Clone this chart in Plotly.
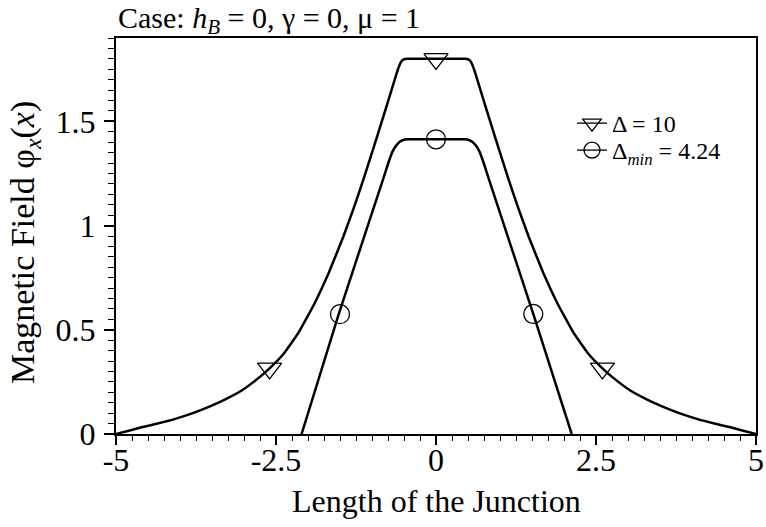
import plotly.graph_objects as go

# ---- data ----
x_d10 = [-5.0, -4.8, -4.6, -4.35, -4.1, -3.8, -3.55, -3.3, -3.03, -2.8, -2.6, -2.38,
         -2.15, -1.9, -1.68, -1.45, -1.29, -1.13, -1.0, -0.8, -0.62, -0.58, -0.54,
         -0.5, -0.45, 0.0, 0.45, 0.5, 0.54, 0.58, 0.62, 0.8, 1.0, 1.13, 1.29, 1.45,
         1.68, 1.9, 2.15, 2.38, 2.6, 2.8, 3.03, 3.3, 3.55, 3.8, 4.1, 4.35, 4.6, 4.8, 5.0]
y_d10 = [0.0, 0.016, 0.032, 0.05, 0.07, 0.1, 0.13, 0.165, 0.21, 0.262, 0.315, 0.385,
         0.485, 0.625, 0.77, 0.945, 1.08, 1.225, 1.35, 1.545, 1.725, 1.762, 1.788,
         1.798, 1.80, 1.80, 1.80, 1.798, 1.788, 1.762, 1.725, 1.545, 1.35, 1.225, 1.08, 0.945,
         0.77, 0.625, 0.485, 0.385, 0.315, 0.262, 0.21, 0.165, 0.13, 0.1, 0.07, 0.05, 0.032, 0.016, 0.0]

x_dmin = [-2.1, -1.52, -0.84, -0.74, -0.68, -0.62, -0.56, -0.5, -0.45, 0.0,
          0.45, 0.5, 0.56, 0.62, 0.68, 0.74, 0.84, 1.52, 2.12]
y_dmin = [0.0, 0.575, 1.21, 1.305, 1.355, 1.385, 1.403, 1.412, 1.414, 1.414,
          1.414, 1.412, 1.403, 1.385, 1.355, 1.305, 1.21, 0.576, 0.0]

mark_x_d10 = [-2.6, 0.0, 2.6]
mark_y_d10 = [0.315, 1.80, 0.315]
mark_x_dmin = [-1.5, 0.0, 1.52]
mark_y_dmin = [0.575, 1.414, 0.576]

x_ticks = [-5, -2.5, 0, 2.5, 5]
x_ticktext = ["-5", "-2.5", "0", "2.5", "5"]
y_ticks = [0, 0.5, 1, 1.5]
y_ticktext = ["0", "0.5", "1", "1.5"]

label_d10 = "Δ = 10"
label_dmin = "Δ<sub><i>min</i></sub> = 4.24"
title_text = "Case: <i>h</i><sub><i>B</i></sub> = 0, γ = 0, μ = 1"
x_title = "Length of the Junction"
y_title = "Magnetic Field φ<sub><i>x</i></sub>(<i>x</i>)"

FONT = "Liberation Serif, Times New Roman, serif"
W, H = 766, 527
ML, MR, MT, MB = 116, 10, 38, 93
PW, PH = W - ML - MR, H - MT - MB

fig = go.Figure()

fig.add_trace(go.Scatter(x=x_d10, y=y_d10, mode="lines",
                         line=dict(color="black", width=2.5, shape="spline", smoothing=0.3),
                         showlegend=False, hoverinfo="skip"))
fig.add_trace(go.Scatter(x=x_dmin, y=y_dmin, mode="lines",
                         line=dict(color="black", width=2.5, shape="spline", smoothing=0.3),
                         showlegend=False, hoverinfo="skip"))
fig.add_trace(go.Scatter(x=mark_x_d10, y=mark_y_d10, mode="markers",
                         marker=dict(symbol="triangle-down-open", size=21, color="black",
                                     line=dict(width=1.3, color="black")),
                         showlegend=False, cliponaxis=False))
fig.add_trace(go.Scatter(x=mark_x_dmin, y=mark_y_dmin, mode="markers",
                         marker=dict(symbol="circle-open", size=19, color="black",
                                     line=dict(width=1.3, color="black")),
                         showlegend=False, cliponaxis=False))
# legend entries
fig.add_trace(go.Scatter(x=[None], y=[None], mode="lines+markers", name=label_d10,
                         legend="legend",
                         line=dict(color="black", width=1.3),
                         marker=dict(symbol="triangle-down-open", size=16, color="black",
                                     line=dict(width=1.3, color="black"))))
fig.add_trace(go.Scatter(x=[None], y=[None], mode="lines+markers", name=label_dmin,
                         legend="legend2",
                         line=dict(color="black", width=1.3),
                         marker=dict(symbol="circle-open", size=16, color="black",
                                     line=dict(width=1.3, color="black"))))

leg_common = dict(xanchor="left", yanchor="top", bgcolor="rgba(0,0,0,0)", borderwidth=0,
                  font=dict(family=FONT, size=24, color="black"))

fig.update_layout(
    width=W, height=H,
    margin=dict(l=ML, r=MR, t=MT, b=MB),
    paper_bgcolor="white", plot_bgcolor="white",
    font=dict(family=FONT, color="black", size=30),
    title=dict(text=title_text, x=118 / W, xanchor="left", xref="container",
               y=1 - 28 / H, yanchor="bottom", yref="container",
               font=dict(family=FONT, size=30, color="black")),
    legend=dict(x=(572 - ML) / PW, y=(PH + MT - 101) / PH, **leg_common),
    legend2=dict(x=(572 - ML) / PW, y=(PH + MT - 128) / PH, **leg_common),
    showlegend=True,
    annotations=[
        dict(text=x_title, xref="paper", yref="paper", x=0.5, y=(PH + MT - 501) / PH,
             xanchor="center", yanchor="middle", showarrow=False,
             font=dict(family=FONT, size=32, color="black")),
        dict(text=y_title, xref="paper", yref="paper", x=(25 - ML) / PW,
             y=(PH + MT - 243) / PH, xanchor="center", yanchor="middle",
             textangle=-90, showarrow=False,
             font=dict(family=FONT, size=34, color="black")),
    ],
)

fig.update_xaxes(
    range=[-5, 5], tickvals=x_ticks, ticktext=x_ticktext,
    ticks="outside", ticklen=9, tickwidth=1.5, tickcolor="black",
    showline=True, linecolor="black", linewidth=2, mirror=True,
    showgrid=False, zeroline=False,
    tickfont=dict(family=FONT, size=32, color="black"),
    ticklabelstandoff=-12,
    minor=dict(ticks="outside", ticklen=5, tickwidth=1.2, tickcolor="black",
               dtick=0.25, tick0=0, showgrid=False),
    automargin=False,
)
fig.update_yaxes(
    range=[0, 1.9], tickvals=y_ticks, ticktext=y_ticktext,
    ticks="outside", ticklen=10, tickwidth=1.5, tickcolor="black",
    showline=True, linecolor="black", linewidth=2, mirror=True,
    showgrid=False, zeroline=False,
    tickfont=dict(family=FONT, size=32, color="black"),
    ticklabelstandoff=2,
    minor=dict(ticks="outside", ticklen=6, tickwidth=1.2, tickcolor="black",
               dtick=0.05, tick0=0, showgrid=False),
    automargin=False,
)

fig.write_html("out.html", config={"displayModeBar": False},
               post_script="document.body.style.margin='0px';")
